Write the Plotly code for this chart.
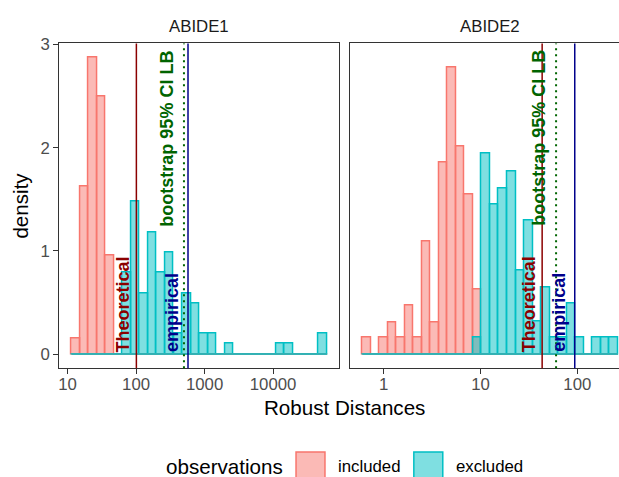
import numpy as np
import plotly.graph_objects as go

# ---------------- data ----------------
panels = ["ABIDE1", "ABIDE2"]

# histogram bin centres (log10 of robust distance)
abide1_bin_centers = [1.120, 1.244, 1.369, 1.493, 1.618, 1.742, 1.866, 1.991, 2.115, 2.240,
                      2.364, 2.488, 2.613, 2.737, 2.862, 2.986, 3.110, 3.235, 3.359, 3.484,
                      3.608, 3.732, 3.857, 3.981, 4.106, 4.230, 4.354, 4.479, 4.603, 4.728]
abide1_included = [0.15, 1.62, 2.87, 2.50, 0.96, 0, 0, 0, 0, 0,
                   0, 0, 0, 0, 0, 0, 0, 0, 0, 0,
                   0, 0, 0, 0, 0, 0, 0, 0, 0, 0]
abide1_excluded = [0, 0, 0, 0, 0, 0, 0.79, 1.48, 0.59, 1.18,
                   0.79, 0.99, 0.20, 0.59, 0.49, 0.20, 0.20, 0, 0.10, 0,
                   0, 0, 0, 0, 0.10, 0.10, 0, 0, 0, 0.20]

abide2_bin_centers = [-0.176, -0.088, 0.000, 0.088, 0.176, 0.264, 0.352, 0.440, 0.528, 0.616,
                      0.704, 0.792, 0.880, 0.968, 1.056, 1.144, 1.232, 1.320, 1.408, 1.496,
                      1.584, 1.672, 1.760, 1.848, 1.936, 2.024, 2.112, 2.200, 2.288, 2.376]
abide2_included = [0.16, 0, 0.16, 0.31, 0.16, 0.47, 0.16, 1.09, 0.31, 1.86,
                   2.78, 2.01, 1.55, 0.63, 0, 0, 0, 0, 0, 0,
                   0, 0, 0, 0, 0, 0, 0, 0, 0, 0]
abide2_excluded = [0, 0, 0, 0, 0, 0, 0, 0, 0, 0,
                   0, 0, 0, 0.16, 1.94, 1.45, 1.61, 1.77, 0.81, 1.30,
                   0.32, 0.65, 0.16, 0.16, 0.49, 0.16, 0, 0.16, 0.16, 0.16]

# cut-offs (robust distance units)
theoretical = [101, 43.3]
bootstrap_lb = [500, 60.3]
empirical = [573, 94]

x_tickvals = [[10, 100, 1000, 10000], [1, 10, 100]]
x_ticktext = [["10", "100", "1000", "10000"], ["1", "10", "100"]]
y_tickvals = [0, 1, 2, 3]

groups = ["included", "excluded"]

# ---------------- style ----------------
FONT = "Liberation Sans, Arial, sans-serif"
W, H = 619, 477
RED_LINE, RED_FILL = "#F8766D", "rgba(248,118,109,0.5)"
CYAN_LINE, CYAN_FILL = "#00BFC4", "rgba(0,191,196,0.5)"
DARKRED, DARKBLUE, DARKGREEN = "#8B0000", "#00008B", "#006400"
AXC = "#333333"

def px_x(p):
    return p / W

def px_y(p):
    return 1 - p / H

x_domains = [[px_x(58.4), px_x(338.7)], [px_x(349.8), 1.0]]
x_ranges = [[0.879, 4.965], [-0.345, 2.43]]
y_domain = [px_y(366.5), px_y(36)]
y_range = [-0.138, 3.01]

fig = go.Figure()

data = [
    (abide1_bin_centers, abide1_included, abide1_excluded),
    (abide2_bin_centers, abide2_included, abide2_excluded),
]

for i, (centers, inc, exc) in enumerate(data):
    xa = "x" if i == 0 else "x2"
    ya = "y" if i == 0 else "y2"
    c = np.array(centers)
    w = float(c[1] - c[0])
    for vals, fill, line in [(inc, RED_FILL, RED_LINE), (exc, CYAN_FILL, CYAN_LINE)]:
        fig.add_trace(go.Bar(
            x=c, y=vals, width=w, xaxis=xa, yaxis=ya,
            marker=dict(color=fill, line=dict(color=line, width=1.5)),
            showlegend=False, hoverinfo="skip"))
    # zero-density baseline drawn by ggplot for empty bins
    for line in [RED_LINE, CYAN_LINE]:
        fig.add_trace(go.Scatter(
            x=[c[0] - w / 2, c[-1] + w / 2], y=[0, 0], mode="lines",
            line=dict(color=line, width=1.5), xaxis=xa, yaxis=ya,
            showlegend=False, hoverinfo="skip"))

annotations = []
shapes = []
for i in range(2):
    xr = "x" if i == 0 else "x2"
    yr = "y" if i == 0 else "y2"
    lt = float(np.log10(theoretical[i]))
    lb = float(np.log10(bootstrap_lb[i]))
    le = float(np.log10(empirical[i]))
    shapes.append(dict(type="line", xref=xr, yref=f"{yr} domain", x0=lt, x1=lt, y0=0, y1=1,
                       line=dict(color=DARKRED, width=1.5)))
    shapes.append(dict(type="line", xref=xr, yref=f"{yr} domain", x0=lb, x1=lb, y0=0, y1=1,
                       line=dict(color=DARKGREEN, width=2, dash="2px,4px")))
    shapes.append(dict(type="line", xref=xr, yref=f"{yr} domain", x0=le, x1=le, y0=0, y1=1,
                       line=dict(color=DARKBLUE, width=1.5)))
    annotations.append(dict(text="Theoretical", x=lt, y=0, xref=xr, yref=yr, xanchor="right",
                            yanchor="bottom", textangle=-90, showarrow=False, xshift=-1,
                            font=dict(family=FONT, size=18, color=DARKRED, weight="bold")))
    annotations.append(dict(text="empirical", x=le, y=0, xref=xr, yref=yr, xanchor="right",
                            yanchor="bottom", textangle=-90, showarrow=False, xshift=-4.5,
                            font=dict(family=FONT, size=18, color=DARKBLUE, weight="bold")))
    annotations.append(dict(text="bootstrap 95% CI LB", x=lb, y=1.22, xref=xr, yref=yr,
                            xanchor="right", yanchor="bottom", textangle=-90, showarrow=False,
                            xshift=-4.5,
                            font=dict(family=FONT, size=18, color=DARKGREEN, weight="bold")))
    # strip label
    annotations.append(dict(text=panels[i], x=sum(x_domains[i]) / 2 if i == 0 else px_x(490),
                            y=px_y(18.8), xref="paper", yref="paper", xanchor="center",
                            yanchor="middle", showarrow=False,
                            font=dict(family=FONT, size=16.8, color="#1A1A1A")))

# axis titles
annotations.append(dict(text="Robust Distances", x=px_x(344), y=px_y(406.7), xref="paper",
                        yref="paper", showarrow=False, xanchor="center", yanchor="middle",
                        font=dict(family=FONT, size=20.6, color="black")))
annotations.append(dict(text="density", x=px_x(20), y=px_y(201), xref="paper", yref="paper",
                        showarrow=False, textangle=-90, xanchor="center", yanchor="middle",
                        font=dict(family=FONT, size=20.6, color="black")))

# legend (ggplot style, bottom)
annotations.append(dict(text="observations", x=px_x(163), y=px_y(466), xref="paper", yref="paper",
                        showarrow=False, xanchor="left", yanchor="middle",
                        font=dict(family=FONT, size=20.6, color="black")))
legend_keys = [(groups[0], RED_FILL, RED_LINE, 295.5, 335.5),
               (groups[1], CYAN_FILL, CYAN_LINE, 413.5, 454)]
for label, fill, line, kx, tx in legend_keys:
    shapes.append(dict(type="rect", xref="paper", yref="paper",
                       x0=px_x(kx), x1=px_x(kx + 29), y0=px_y(480), y1=px_y(451.5),
                       fillcolor=fill, line=dict(color=line, width=1.5), layer="above"))
    annotations.append(dict(text=label, x=px_x(tx), y=px_y(466), xref="paper", yref="paper",
                            showarrow=False, xanchor="left", yanchor="middle",
                            font=dict(family=FONT, size=16.8, color="black")))

common = dict(showgrid=False, zeroline=False, showline=True, linecolor=AXC, linewidth=1.2,
              ticks="outside", ticklen=5, tickcolor=AXC, tickwidth=1.2,
              tickfont=dict(family=FONT, size=16.8, color="#4D4D4D"))

fig.update_layout(
    width=W, height=H, autosize=False,
    margin=dict(l=0, r=0, t=0, b=0),
    paper_bgcolor="white", plot_bgcolor="white",
    barmode="overlay", bargap=0,
    showlegend=False,
    font=dict(family=FONT),
    xaxis=dict(domain=x_domains[0], range=x_ranges[0], anchor="y", mirror=True,
               tickvals=list(np.log10(x_tickvals[0])), ticktext=x_ticktext[0],
               ticklabelstandoff=-5, **common),
    xaxis2=dict(domain=x_domains[1], range=x_ranges[1], anchor="y2", mirror=True,
                tickvals=list(np.log10(x_tickvals[1])), ticktext=x_ticktext[1],
                ticklabelstandoff=-5, **common),
    yaxis=dict(domain=y_domain, range=y_range, anchor="x", mirror=True,
               tickvals=y_tickvals, **common),
    yaxis2=dict(domain=y_domain, range=y_range, anchor="x2", showgrid=False, zeroline=False,
                showline=True, linecolor=AXC, linewidth=1.2, mirror=False,
                showticklabels=False, ticks=""),
    shapes=shapes,
    annotations=annotations,
)

fig.write_html(
    "out.html",
    config={"displayModeBar": False},
    post_script="document.body.style.margin='0';document.body.style.padding='0';"
                "document.body.style.overflow='hidden';",
)
